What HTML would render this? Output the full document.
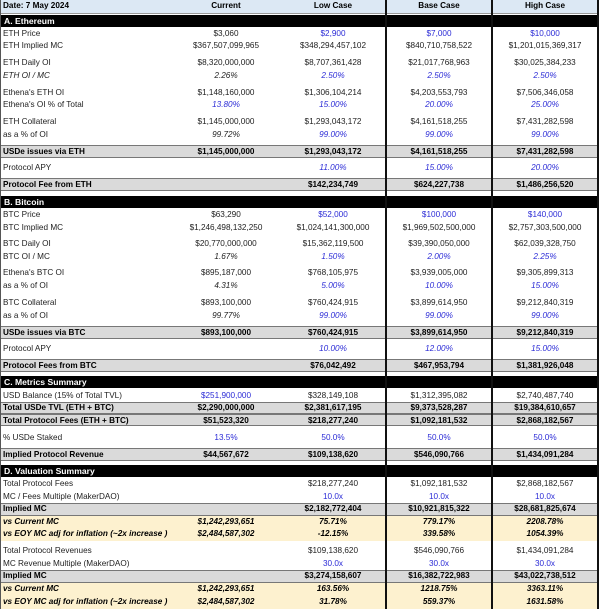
<!DOCTYPE html>
<html><head><meta charset="utf-8"><style>
body{margin:0;width:600px;height:609px;background:#fff;position:relative;overflow:hidden;font-family:"Liberation Sans",Arial,sans-serif;font-size:8.2px;color:#222}
.r{position:absolute;left:0;width:600px;height:12px;line-height:12px}
.r span{position:absolute;top:0;text-align:center;white-space:nowrap}
.l{left:3px;text-align:left!important}
.c1{left:172px;width:108px}.c2{left:280px;width:106px}.c3{left:386px;width:106px}.c4{left:492px;width:106px}
.b{font-weight:bold;color:#000}.i{font-style:italic}.u{color:#2b2bd6}
.g{position:absolute;left:0;width:598px;background:#dadada;border-top:1.5px solid #777;border-bottom:1.5px solid #777}
.k{position:absolute;left:0;width:598px;background:#000}
.k span{position:absolute;left:4px;color:#fff;font-weight:bold;line-height:12px;font-size:8.6px}
.y{position:absolute;left:0;width:598px;background:#fdf1cf}
.v{position:absolute;top:0;height:609px;width:1.5px;background:#111}
</style></head><body>
<div style="position:absolute;left:0;top:0;width:598px;height:13px;background:#dce8f4;border-bottom:1px solid #999"></div>
<div class="y" style="top:516px;height:25px"></div>
<div class="y" style="top:583px;height:26px"></div>
<div class="k" style="top:15px;height:12px"><span>A. Ethereum</span></div>
<div class="g" style="top:145px;height:11px"></div>
<div class="g" style="top:178px;height:11px"></div>
<div class="k" style="top:196px;height:12px"><span>B. Bitcoin</span></div>
<div class="g" style="top:326px;height:11px"></div>
<div class="g" style="top:359px;height:11px"></div>
<div class="k" style="top:376px;height:12px"><span>C. Metrics Summary</span></div>
<div class="g" style="top:402px;height:10px"></div>
<div class="g" style="top:414px;height:10px"></div>
<div class="g" style="top:448px;height:11px"></div>
<div class="k" style="top:465px;height:12px"><span>D. Valuation Summary</span></div>
<div class="g" style="top:503px;height:11px"></div>
<div class="g" style="top:570px;height:11px"></div>
<div class="v" style="left:385px"></div><div class="v" style="left:491px"></div><div class="v" style="left:597px"></div>
<div style="position:absolute;left:0;top:0;width:1px;height:609px;background:#555"></div>

<div class="r b" style="top:0"><span class="l">Date: 7 May 2024</span><span class="c1">Current</span><span class="c2">Low Case</span><span class="c3">Base Case</span><span class="c4">High Case</span></div>

<div class="r" style="top:28px"><span class="l">ETH Price</span><span class="c1">$3,060</span><span class="c2 u">$2,900</span><span class="c3 u">$7,000</span><span class="c4 u">$10,000</span></div>
<div class="r" style="top:40px"><span class="l">ETH Implied MC</span><span class="c1">$367,507,099,965</span><span class="c2">$348,294,457,102</span><span class="c3">$840,710,758,522</span><span class="c4">$1,201,015,369,317</span></div>
<div class="r" style="top:57px"><span class="l">ETH Daily OI</span><span class="c1">$8,320,000,000</span><span class="c2">$8,707,361,428</span><span class="c3">$21,017,768,963</span><span class="c4">$30,025,384,233</span></div>
<div class="r i" style="top:70px"><span class="l">ETH OI / MC</span><span class="c1">2.26%</span><span class="c2 u">2.50%</span><span class="c3 u">2.50%</span><span class="c4 u">2.50%</span></div>
<div class="r" style="top:87px"><span class="l">Ethena's ETH OI</span><span class="c1">$1,148,160,000</span><span class="c2">$1,306,104,214</span><span class="c3">$4,203,553,793</span><span class="c4">$7,506,346,058</span></div>
<div class="r" style="top:99px"><span class="l">Ethena's OI % of Total</span><span class="c1 u i">13.80%</span><span class="c2 u i">15.00%</span><span class="c3 u i">20.00%</span><span class="c4 u i">25.00%</span></div>
<div class="r" style="top:116px"><span class="l">ETH Collateral</span><span class="c1">$1,145,000,000</span><span class="c2">$1,293,043,172</span><span class="c3">$4,161,518,255</span><span class="c4">$7,431,282,598</span></div>
<div class="r" style="top:129px"><span class="l">as a % of OI</span><span class="c1 i">99.72%</span><span class="c2 u i">99.00%</span><span class="c3 u i">99.00%</span><span class="c4 u i">99.00%</span></div>
<div class="r b" style="top:146px"><span class="l">USDe issues via ETH</span><span class="c1">$1,145,000,000</span><span class="c2">$1,293,043,172</span><span class="c3">$4,161,518,255</span><span class="c4">$7,431,282,598</span></div>
<div class="r" style="top:162px"><span class="l">Protocol APY</span><span class="c2 u i">11.00%</span><span class="c3 u i">15.00%</span><span class="c4 u i">20.00%</span></div>
<div class="r b" style="top:179px"><span class="l">Protocol Fee from ETH</span><span class="c2">$142,234,749</span><span class="c3">$624,227,738</span><span class="c4">$1,486,256,520</span></div>

<div class="r" style="top:209px"><span class="l">BTC Price</span><span class="c1">$63,290</span><span class="c2 u">$52,000</span><span class="c3 u">$100,000</span><span class="c4 u">$140,000</span></div>
<div class="r" style="top:222px"><span class="l">BTC Implied MC</span><span class="c1">$1,246,498,132,250</span><span class="c2">$1,024,141,300,000</span><span class="c3">$1,969,502,500,000</span><span class="c4">$2,757,303,500,000</span></div>
<div class="r" style="top:238px"><span class="l">BTC Daily OI</span><span class="c1">$20,770,000,000</span><span class="c2">$15,362,119,500</span><span class="c3">$39,390,050,000</span><span class="c4">$62,039,328,750</span></div>
<div class="r" style="top:251px"><span class="l">BTC OI / MC</span><span class="c1 i">1.67%</span><span class="c2 u i">1.50%</span><span class="c3 u i">2.00%</span><span class="c4 u i">2.25%</span></div>
<div class="r" style="top:267px"><span class="l">Ethena's BTC OI</span><span class="c1">$895,187,000</span><span class="c2">$768,105,975</span><span class="c3">$3,939,005,000</span><span class="c4">$9,305,899,313</span></div>
<div class="r" style="top:280px"><span class="l">as a % of OI</span><span class="c1 i">4.31%</span><span class="c2 u i">5.00%</span><span class="c3 u i">10.00%</span><span class="c4 u i">15.00%</span></div>
<div class="r" style="top:297px"><span class="l">BTC Collateral</span><span class="c1">$893,100,000</span><span class="c2">$760,424,915</span><span class="c3">$3,899,614,950</span><span class="c4">$9,212,840,319</span></div>
<div class="r" style="top:310px"><span class="l">as a % of OI</span><span class="c1 i">99.77%</span><span class="c2 u i">99.00%</span><span class="c3 u i">99.00%</span><span class="c4 u i">99.00%</span></div>
<div class="r b" style="top:327px"><span class="l">USDe issues via BTC</span><span class="c1">$893,100,000</span><span class="c2">$760,424,915</span><span class="c3">$3,899,614,950</span><span class="c4">$9,212,840,319</span></div>
<div class="r" style="top:343px"><span class="l">Protocol APY</span><span class="c2 u i">10.00%</span><span class="c3 u i">12.00%</span><span class="c4 u i">15.00%</span></div>
<div class="r b" style="top:360px"><span class="l">Protocol Fees from BTC</span><span class="c2">$76,042,492</span><span class="c3">$467,953,794</span><span class="c4">$1,381,926,048</span></div>

<div class="r" style="top:390px"><span class="l">USD Balance (15% of Total TVL)</span><span class="c1 u">$251,900,000</span><span class="c2">$328,149,108</span><span class="c3">$1,312,395,082</span><span class="c4">$2,740,487,740</span></div>
<div class="r b" style="top:402px"><span class="l">Total USDe TVL (ETH + BTC)</span><span class="c1">$2,290,000,000</span><span class="c2">$2,381,617,195</span><span class="c3">$9,373,528,287</span><span class="c4">$19,384,610,657</span></div>
<div class="r b" style="top:415px"><span class="l">Total Protocol Fees (ETH + BTC)</span><span class="c1">$51,523,320</span><span class="c2">$218,277,240</span><span class="c3">$1,092,181,532</span><span class="c4">$2,868,182,567</span></div>
<div class="r" style="top:432px"><span class="l">% USDe Staked</span><span class="c1 u">13.5%</span><span class="c2 u">50.0%</span><span class="c3 u">50.0%</span><span class="c4 u">50.0%</span></div>
<div class="r b" style="top:449px"><span class="l">Implied Protocol Revenue</span><span class="c1">$44,567,672</span><span class="c2">$109,138,620</span><span class="c3">$546,090,766</span><span class="c4">$1,434,091,284</span></div>

<div class="r" style="top:478px"><span class="l">Total Protocol Fees</span><span class="c2">$218,277,240</span><span class="c3">$1,092,181,532</span><span class="c4">$2,868,182,567</span></div>
<div class="r" style="top:491px"><span class="l">MC / Fees Multiple (MakerDAO)</span><span class="c2 u">10.0x</span><span class="c3 u">10.0x</span><span class="c4 u">10.0x</span></div>
<div class="r b" style="top:503px"><span class="l">Implied MC</span><span class="c2">$2,182,772,404</span><span class="c3">$10,921,815,322</span><span class="c4">$28,681,825,674</span></div>
<div class="r b i" style="top:516px"><span class="l">vs Current MC</span><span class="c1">$1,242,293,651</span><span class="c2">75.71%</span><span class="c3">779.17%</span><span class="c4">2208.78%</span></div>
<div class="r b i" style="top:528px"><span class="l">vs EOY MC adj for inflation (~2x increase )</span><span class="c1">$2,484,587,302</span><span class="c2">-12.15%</span><span class="c3">339.58%</span><span class="c4">1054.39%</span></div>
<div class="r" style="top:545px"><span class="l">Total Protocol Revenues</span><span class="c2">$109,138,620</span><span class="c3">$546,090,766</span><span class="c4">$1,434,091,284</span></div>
<div class="r" style="top:558px"><span class="l">MC Revenue Multiple (MakerDAO)</span><span class="c2 u">30.0x</span><span class="c3 u">30.0x</span><span class="c4 u">30.0x</span></div>
<div class="r b" style="top:570px"><span class="l">Implied MC</span><span class="c2">$3,274,158,607</span><span class="c3">$16,382,722,983</span><span class="c4">$43,022,738,512</span></div>
<div class="r b i" style="top:583px"><span class="l">vs Current MC</span><span class="c1">$1,242,293,651</span><span class="c2">163.56%</span><span class="c3">1218.75%</span><span class="c4">3363.11%</span></div>
<div class="r b i" style="top:596px"><span class="l">vs EOY MC adj for inflation (~2x increase )</span><span class="c1">$2,484,587,302</span><span class="c2">31.78%</span><span class="c3">559.37%</span><span class="c4">1631.58%</span></div>
</body></html>
